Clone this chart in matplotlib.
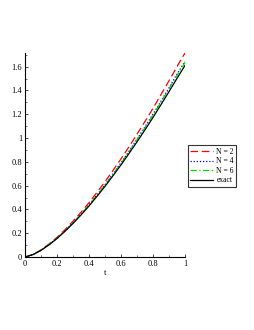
import matplotlib
matplotlib.use("Agg")
import matplotlib.pyplot as plt
from matplotlib.ticker import MultipleLocator, FuncFormatter

t = [0.0, 0.05, 0.1, 0.15, 0.2, 0.25, 0.3, 0.35, 0.4, 0.45, 0.5,
     0.55, 0.6, 0.65, 0.7, 0.75, 0.8, 0.85, 0.9, 0.95, 1.0]
n2 = [0, 0.021, 0.060, 0.109, 0.165, 0.230, 0.301, 0.376, 0.457, 0.544, 0.633,
      0.728, 0.825, 0.927, 1.032, 1.140, 1.250, 1.366, 1.482, 1.601, 1.715]
n4 = [0, 0.020, 0.057, 0.104, 0.159, 0.221, 0.288, 0.361, 0.439, 0.522, 0.608,
      0.699, 0.792, 0.890, 0.990, 1.094, 1.200, 1.310, 1.422, 1.537, 1.645]
n6 = [0, 0.020, 0.057, 0.104, 0.158, 0.220, 0.287, 0.359, 0.436, 0.519, 0.604,
      0.695, 0.787, 0.885, 0.984, 1.087, 1.193, 1.303, 1.414, 1.527, 1.636]
exact = [0, 0.020, 0.056, 0.102, 0.155, 0.216, 0.282, 0.353, 0.429, 0.510, 0.594,
         0.683, 0.774, 0.870, 0.968, 1.069, 1.173, 1.281, 1.390, 1.502, 1.610]
labels = ["N = 2", "N = 4", "N = 6", "exact"]

plt.rcParams['font.family'] = ['Liberation Serif', 'DejaVu Serif']

fig = plt.figure(figsize=(2.55, 3.3), dpi=100)
ax = fig.add_axes([25/255, 73/330, 160/255, 204/330])

ax.plot(t, n2, color='red', linestyle=(0, (6, 3)), lw=0.9, label=labels[0])
ax.plot(t, n4, color='blue', linestyle=(0, (1, 1.5)), lw=0.9, label=labels[1])
ax.plot(t, n6, color='#00dd00', linestyle=(0, (5, 2, 1, 2)), lw=0.9, label=labels[2])
ax.plot(t, exact, color='black', linestyle='-', lw=0.9, label=labels[3])

ax.set_xlim(0, 1)
ax.set_ylim(0, max(n2))
for s in ['top', 'right']:
    ax.spines[s].set_visible(False)
for s in ['left', 'bottom']:
    ax.spines[s].set_linewidth(0.8)

ax.xaxis.set_major_locator(MultipleLocator(0.2))
ax.xaxis.set_minor_locator(MultipleLocator(0.1))
ax.yaxis.set_major_locator(MultipleLocator(0.2))
ax.yaxis.set_minor_locator(MultipleLocator(0.1))
fmt = FuncFormatter(lambda v, p: '0' if abs(v) < 1e-9 else ('%g' % round(v, 2)))
ax.xaxis.set_major_formatter(fmt)
ax.yaxis.set_major_formatter(fmt)
ax.tick_params(which='major', direction='in', length=2.5, width=0.5, labelsize=6, pad=2)
ax.tick_params(which='minor', direction='in', length=1.5, width=0.4)
ax.set_xlabel('t', fontsize=6, labelpad=1)

leg = ax.legend(loc='center left', bbox_to_anchor=(188/255, 164/330), bbox_transform=fig.transFigure,
                fontsize=5.5, frameon=True, fancybox=False, edgecolor='black',
                handlelength=3.0, handletextpad=0.4, borderpad=0.3, labelspacing=0.2,
                borderaxespad=0)
leg.get_frame().set_linewidth(0.8)

fig.savefig('out.png', dpi=100)
